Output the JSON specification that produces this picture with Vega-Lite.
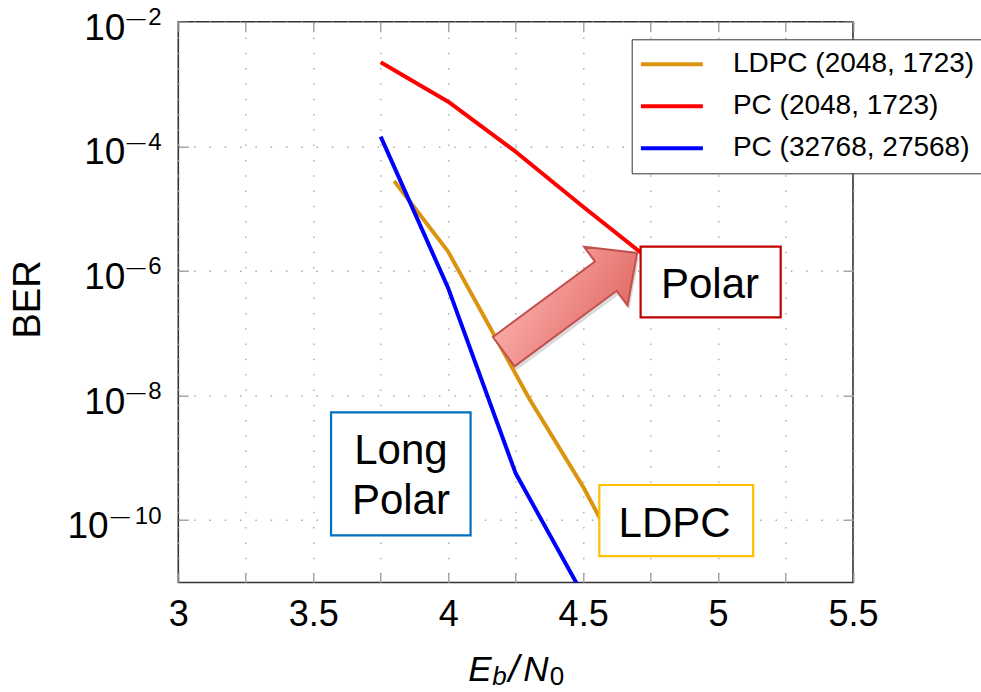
{
  "$schema": "https://vega.github.io/schema/vega-lite/v6.json",
  "width": 674.7,
  "height": 560.8,
  "autosize": {"type": "none"},
  "padding": {"left": 178.3, "top": 21.7, "right": 128, "bottom": 109.5},
  "background": "white",
  "config": {
    "view": {"stroke": "#333333", "strokeWidth": 1.6},
    "font": "Liberation Sans",
    "axis": {"labelFont": "Liberation Sans", "titleFont": "Liberation Sans", "titleColor": "black", "labelColor": "black", "titleFontWeight": "normal"},
    "legend": {"labelFont": "Liberation Sans"}
  },
  "datasets": {
    "curves": [
      {"code": "LDPC (2048, 1723)", "EbN0": 3.8, "BER": 2.77e-5},
      {"code": "LDPC (2048, 1723)", "EbN0": 4.0, "BER": 2.04e-6},
      {"code": "LDPC (2048, 1723)", "EbN0": 4.3, "BER": 9.0e-9},
      {"code": "LDPC (2048, 1723)", "EbN0": 4.5, "BER": 3.44e-10},
      {"code": "LDPC (2048, 1723)", "EbN0": 4.6, "BER": 5.3e-11},
      {"code": "PC (2048, 1723)", "EbN0": 3.75, "BER": 2.23e-3},
      {"code": "PC (2048, 1723)", "EbN0": 4.0, "BER": 5.2e-4},
      {"code": "PC (2048, 1723)", "EbN0": 4.25, "BER": 8.2e-5},
      {"code": "PC (2048, 1723)", "EbN0": 4.5, "BER": 1.07e-5},
      {"code": "PC (2048, 1723)", "EbN0": 4.75, "BER": 1.48e-6},
      {"code": "PC (32768, 27568)", "EbN0": 3.75, "BER": 1.43e-4},
      {"code": "PC (32768, 27568)", "EbN0": 4.0, "BER": 5.3e-7},
      {"code": "PC (32768, 27568)", "EbN0": 4.25, "BER": 5.65e-10},
      {"code": "PC (32768, 27568)", "EbN0": 4.5, "BER": 6.3e-12}
    ],
    "boxes": [
      {"box": "Polar", "x1": 4.713, "x2": 5.232, "y1": 2.45e-6, "y2": 1.8e-7},
      {"box": "LDPC", "x1": 4.56, "x2": 5.13, "y1": 3.67e-10, "y2": 2.66e-11},
      {"box": "Long Polar", "x1": 3.566, "x2": 4.083, "y1": 5.38e-9, "y2": 5.71e-11}
    ],
    "labelsRight": [
      {"text": "Polar", "x": 4.97, "y": 3.72e-7},
      {"text": "LDPC", "x": 4.839, "y": 5.43e-11}
    ],
    "labelsLeft": [
      {"text": "Long", "x": 3.825, "y": 7.98e-10},
      {"text": "Polar", "x": 3.825, "y": 1.26e-10}
    ],
    "arrow": [
      {"x": 4.453, "y": 3.14e-7}
    ]
  },
  "layer": [
    {
      "data": {"name": "curves"},
      "mark": {"type": "line", "strokeWidth": 4, "clip": true, "strokeJoin": "round"},
      "encoding": {
        "x": {
          "field": "EbN0", "type": "quantitative",
          "scale": {"domain": [3, 5.5], "nice": false, "zero": false},
          "axis": {
            "orient": "bottom",
            "values": [3, 3.25, 3.5, 3.75, 4, 4.25, 4.5, 4.75, 5, 5.25, 5.5],
            "labelExpr": "datum.value % 0.5 == 0 ? format(datum.value, '~g') : ''",
            "labelFontSize": 36, "labelPadding": 24.8,
            "labelFlush": false, "labelOverlap": false,
            "tickSize": -10, "tickColor": "#999999", "tickWidth": 1.3,
            "domain": false,
            "grid": true, "gridColor": "#aaaaaa", "gridDash": [1.5, 13.8], "gridWidth": 1.4,
            "title": "E", "titleFontSize": 35, "titleFontStyle": "italic",
            "titleX": 301.2, "titleY": 97.5, "titleBaseline": "alphabetic", "titleAlign": "center"
          }
        },
        "y": {
          "field": "BER", "type": "quantitative",
          "scale": {"type": "log", "domain": [1e-11, 1e-2], "nice": false},
          "axis": {
            "orient": "left",
            "values": [1e-8, 1e-6, 1e-4, 1e-2],
            "labelExpr": "'10'",
            "labelFontSize": 37, "labelPadding": 63.5, "labelOffset": 17.5, "labelBaseline": "alphabetic",
            "labelOverlap": false, "labelFlush": false,
            "tickSize": -10, "tickColor": "#999999", "tickWidth": 1.3,
            "domain": false,
            "grid": true, "gridColor": "#aaaaaa", "gridDash": [1.5, 13.8], "gridWidth": 1.4,
            "title": "BER", "titleFontSize": 38,
            "titleAngle": 270, "titleX": -150.3, "titleY": 277.3, "titleBaseline": "middle", "titleAlign": "center"
          }
        },
        "color": {
          "field": "code", "type": "nominal",
          "scale": {"domain": ["LDPC (2048, 1723)", "PC (2048, 1723)", "PC (32768, 27568)"], "range": ["#db9410", "#ff0000", "#0000ff"]},
          "legend": {
            "title": null, "orient": "none", "legendX": 453.4, "legendY": 17.6,
            "symbolType": "M-3,0L3,0", "symbolSize": 427, "symbolStrokeWidth": 4, "symbolOffset": 15.2,
            "labelFontSize": 28, "labelColor": "black", "labelOffset": 47, "labelLimit": 400,
            "rowPadding": 14, "padding": 11,
            "strokeColor": "#333333", "fillColor": "white", "cornerRadius": 0
          }
        }
      }
    },
    {
      "data": {"name": "boxes"},
      "mark": {"type": "rect", "fill": "white", "strokeWidth": 2.2},
      "encoding": {
        "x": {
          "field": "x1", "type": "quantitative",
          "scale": {"domain": [3, 5.5], "nice": false, "zero": false},
          "axis": {
            "orient": "top", "values": [3, 3.25, 3.5, 3.75, 4, 4.25, 4.5, 4.75, 5, 5.25, 5.5],
            "labels": false, "tickSize": -10, "tickColor": "#999999", "tickWidth": 1.3,
            "domain": false, "grid": false, "title": null
          }
        },
        "x2": {"field": "x2"},
        "y": {
          "field": "y1", "type": "quantitative",
          "scale": {"type": "log", "domain": [1e-11, 1e-2], "nice": false},
          "axis": {
            "orient": "right", "values": [1e-10, 1e-8, 1e-6, 1e-4, 1e-2],
            "labels": false, "tickSize": -10, "tickColor": "#999999", "tickWidth": 1.3,
            "domain": false, "grid": false, "title": null
          }
        },
        "y2": {"field": "y2"},
        "stroke": {
          "field": "box", "type": "nominal",
          "scale": {"domain": ["Polar", "LDPC", "Long Polar"], "range": ["#c00000", "#ffc000", "#0070c0"]},
          "legend": null
        }
      }
    },
    {
      "data": {"name": "labelsRight"},
      "mark": {"type": "text", "font": "Liberation Sans", "fontSize": 42, "align": "center", "baseline": "alphabetic", "color": "black"},
      "encoding": {
        "x": {
          "field": "x", "type": "quantitative", "scale": {"domain": [3, 5.5], "nice": false, "zero": false},
          "axis": {
            "orient": "bottom", "labels": false, "ticks": false, "grid": false, "domain": false,
            "title": "b", "titleFontSize": 26, "titleFontStyle": "italic",
            "titleX": 320.7, "titleY": 102, "titleBaseline": "alphabetic", "titleAlign": "center"
          }
        },
        "y": {
          "field": "y", "type": "quantitative", "scale": {"type": "log", "domain": [1e-11, 1e-2], "nice": false},
          "axis": {
            "orient": "left",
            "values": [1e-10],
            "labelExpr": "'10'",
            "labelFontSize": 37, "labelPadding": 80.1, "labelOffset": 17.5, "labelBaseline": "alphabetic",
            "labelOverlap": false, "labelFlush": false,
            "tickSize": -10, "tickColor": "#999999", "tickWidth": 1.3,
            "domain": false,
            "grid": true, "gridColor": "#aaaaaa", "gridDash": [1.5, 13.8], "gridWidth": 1.4,
            "title": null
          }
        },
        "text": {"field": "text"}
      }
    },
    {
      "data": {"name": "labelsLeft"},
      "mark": {"type": "text", "font": "Liberation Sans", "fontSize": 42, "align": "center", "baseline": "alphabetic", "color": "black"},
      "encoding": {
        "x": {
          "field": "x", "type": "quantitative", "scale": {"domain": [3, 5.5], "nice": false, "zero": false},
          "axis": {
            "orient": "bottom", "labels": false, "ticks": false, "grid": false, "domain": false,
            "title": "/", "titleFontSize": 38, "titleFontStyle": "italic",
            "titleX": 335, "titleY": 99, "titleBaseline": "alphabetic", "titleAlign": "center"
          }
        },
        "y": {
          "field": "y", "type": "quantitative", "scale": {"type": "log", "domain": [1e-11, 1e-2], "nice": false},
          "axis": {
            "orient": "left",
            "values": [1e-10, 1e-8, 1e-6, 1e-4, 1e-2],
            "labelExpr": "'' + round(-log(datum.value) / LN10)",
            "labelFontSize": 24, "labelPadding": 17.3, "labelOffset": 3, "labelBaseline": "alphabetic",
            "labelOverlap": false, "labelFlush": false,
            "ticks": false, "domain": false, "grid": false, "title": null
          }
        },
        "text": {"field": "text"}
      }
    },
    {
      "data": {"name": "arrow"},
      "mark": {
        "type": "point",
        "shape": "M-1,-0.22L0.53,-0.22L0.53,-0.44L1,0L0.53,0.44L0.53,0.22L-1,0.22Z",
        "size": 27556, "angle": -36.5, "filled": true, "opacity": 0.22,
        "fill": "#555555", "strokeWidth": 0, "xOffset": 2, "yOffset": 4
      },
      "encoding": {
        "x": {
          "field": "x", "type": "quantitative", "scale": {"domain": [3, 5.5], "nice": false, "zero": false},
          "axis": {
            "orient": "bottom", "labels": false, "ticks": false, "grid": false, "domain": false,
            "title": "N", "titleFontSize": 35, "titleFontStyle": "italic",
            "titleX": 357.2, "titleY": 97.5, "titleBaseline": "alphabetic", "titleAlign": "center"
          }
        },
        "y": {
          "field": "y", "type": "quantitative", "scale": {"type": "log", "domain": [1e-11, 1e-2], "nice": false},
          "axis": {
            "orient": "left",
            "values": [1e-8, 1e-6, 1e-4, 1e-2],
            "labelExpr": "'—'",
            "labelFontSize": 19, "labelPadding": 33.3, "labelOffset": 1.5, "labelBaseline": "alphabetic", "labelAlign": "right",
            "labelOverlap": false, "labelFlush": false,
            "ticks": false, "domain": false, "grid": false, "title": null
          }
        }
      }
    },
    {
      "data": {"name": "arrow"},
      "mark": {
        "type": "point",
        "shape": "M-1,-0.22L0.53,-0.22L0.53,-0.44L1,0L0.53,0.44L0.53,0.22L-1,0.22Z",
        "size": 27556, "angle": -36.5, "filled": true, "opacity": 1,
        "fill": {"gradient": "linear", "x1": 0, "y1": 0, "x2": 1, "y2": 1,
                 "stops": [{"offset": 0, "color": "#fcb3b0"}, {"offset": 1, "color": "#e0645f"}]},
        "stroke": "#c0504d", "strokeWidth": 2
      },
      "encoding": {
        "x": {
          "field": "x", "type": "quantitative", "scale": {"domain": [3, 5.5], "nice": false, "zero": false},
          "axis": {
            "orient": "bottom", "labels": false, "ticks": false, "grid": false, "domain": false,
            "title": "0", "titleFontSize": 26,
            "titleX": 378.2, "titleY": 102, "titleBaseline": "alphabetic", "titleAlign": "center"
          }
        },
        "y": {
          "field": "y", "type": "quantitative", "scale": {"type": "log", "domain": [1e-11, 1e-2], "nice": false},
          "axis": {
            "orient": "left",
            "values": [1e-10],
            "labelExpr": "'—'",
            "labelFontSize": 19, "labelPadding": 49, "labelOffset": 1.5, "labelBaseline": "alphabetic", "labelAlign": "right",
            "labelOverlap": false, "labelFlush": false,
            "ticks": false, "domain": false, "grid": false, "title": null
          }
        }
      }
    }
  ],
  "resolve": {"axis": {"x": "independent", "y": "independent"}}
}
